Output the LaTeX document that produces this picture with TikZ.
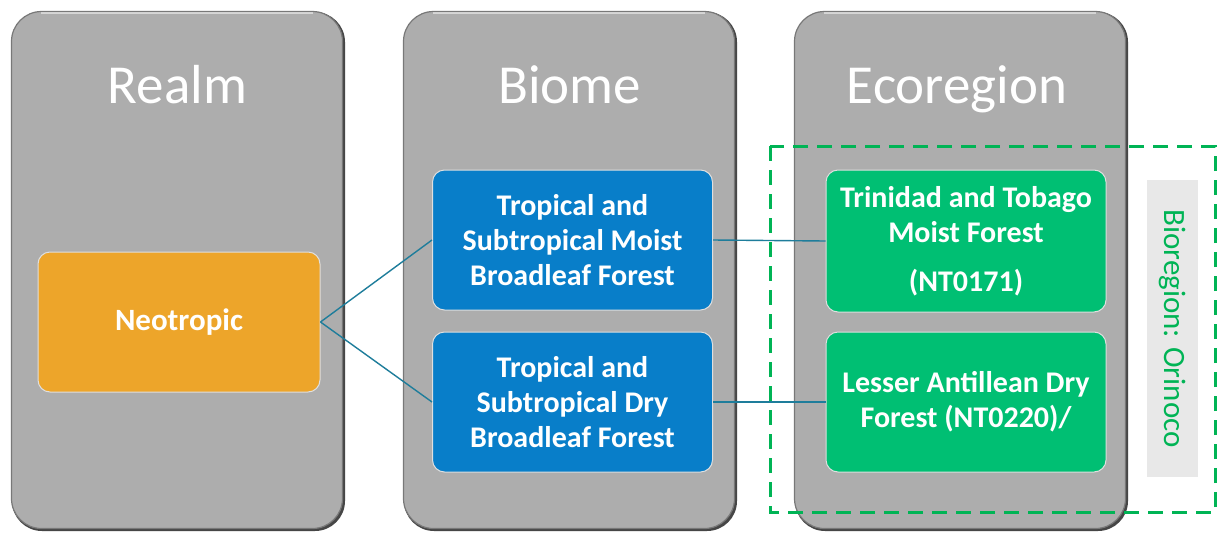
\documentclass[tikz,border=0pt]{standalone}
\usepackage{fontspec}
\setmainfont{Carlito}
\usetikzlibrary{positioning}
\definecolor{colgray}{RGB}{173,173,173}
\definecolor{coledge}{RGB}{120,120,120}
\definecolor{colshade}{RGB}{70,70,70}
\definecolor{realmorange}{RGB}{237,165,42}
\definecolor{biomeblue}{RGB}{8,126,201}
\definecolor{ecogreen}{RGB}{0,191,115}
\definecolor{bioregiongreen}{RGB}{0,180,85}
\definecolor{linkteal}{RGB}{30,125,155}
\definecolor{labelgray}{RGB}{232,232,232}
\tikzset{
  column/.style={rounded corners=30pt, fill=colgray, draw=coledge, line width=1.2pt,
    minimum width=331pt, minimum height=517pt, inner sep=0pt},
  colshadow/.style={rounded corners=30pt, fill=colshade,
    minimum width=333pt, minimum height=519pt, inner sep=0pt},
  coltitle/.style={text=white, font=\fontsize{55}{66}\selectfont, anchor=base, inner sep=0pt},
  itembox/.style={rounded corners=12pt, draw=white!75!gray, line width=1pt,
    text=white, font=\bfseries\fontsize{30}{35}\selectfont, align=center,
    minimum width=280pt, minimum height=140pt, inner sep=0pt},
  realmbox/.style={itembox, fill=realmorange},
  biomebox/.style={itembox, fill=biomeblue},
  ecobox/.style={itembox, fill=ecogreen},
  link/.style={draw=linkteal, line width=1.4pt},
  regionframe/.style={draw=bioregiongreen, line width=3pt, dash pattern=on 15pt off 9pt},
}
\begin{document}
\begin{tikzpicture}[x=1pt,y=-1pt]
\useasboundingbox[fill=white] (0,0) rectangle (1217,533);

% three level columns, each with a darker rim on the right and bottom
\node[colshadow] (realmrim) at (178.5,271.5) {};
\node[colshadow] (biomerim) at (570.5,271.5) {};
\node[colshadow] (ecorim)   at (961.5,271.5) {};
\node[column] (realmcol) at (177,270) {};
\node[column] (biomecol) at (569,270) {};
\node[column] (ecocol)   at (960,270) {};

% soft highlight along the top of each column
\foreach \c in {realmcol,biomecol,ecocol}{
  \draw[white, opacity=0.5, line width=1.5pt]
    ([xshift=30pt,yshift=-2pt]\c.north west) -- ([xshift=-30pt,yshift=-2pt]\c.north east);
}

\node[coltitle] (realmtitle) at (177.5,103) {Realm};
\node[coltitle] (biometitle) at (569.5,103) {Biome};
\node[coltitle] (ecotitle)   at (957,103)   {Ecoregion};

% bioregion frame and label
\draw[regionframe] (770,146) rectangle (1215,512);
\node[fill=labelgray, minimum width=51pt, minimum height=297pt, inner sep=0pt] (biolabel) at (1172.5,328.5) {};
\node[rotate=-90, text=bioregiongreen, font=\fontsize{31}{36}\selectfont] (biotext) at (biolabel.center) {Bioregion: Orinoco};

% hierarchy boxes
\node[realmbox, minimum width=282pt, font=\bfseries\fontsize{31}{36}\selectfont] (neo) at (179,322) {Neotropic};
\node[biomebox] (moist) at (572.5,240) {Tropical and\\Subtropical Moist\\Broadleaf Forest};
\node[biomebox] (dry)   at (572.5,402) {Tropical and\\Subtropical Dry\\Broadleaf Forest};
\node[ecobox, minimum height=142pt] (trin) at (966,241) {Trinidad and Tobago\\Moist Forest\\[14pt](NT0171)};
\node[ecobox] (lesser) at (966,402) {Lesser Antillean Dry\\Forest (NT0220)/};

% connectors
\draw[link] (neo.east) -- (moist.west);
\draw[link] (neo.east) -- (dry.west);
\draw[link] (moist.east) -- (trin.west);
\draw[link] (dry.east) -- (lesser.west);
\end{tikzpicture}
\end{document}
